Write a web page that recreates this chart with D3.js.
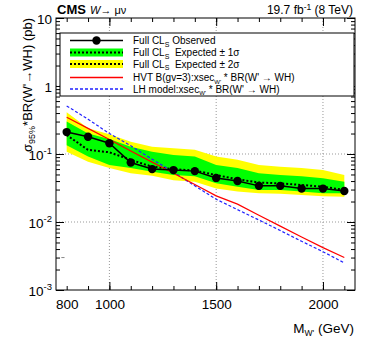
<!DOCTYPE html>
<html>
<head>
<meta charset="utf-8">
<script src="https://cdn.jsdelivr.net/npm/d3@7"></script>
<style>
  body { margin: 0; background: #fff; }
  svg { font-family: "Liberation Sans", Arial, sans-serif; }
</style>
</head>
<body>
<div id="chart"></div>
<script>
const masses = [800, 900, 1000, 1100, 1200, 1300, 1400, 1500, 1600, 1700, 1800, 1900, 2000, 2100];
const observed = [0.21, 0.179, 0.144, 0.075, 0.060, 0.058, 0.056, 0.0445, 0.040, 0.034, 0.034, 0.031, 0.031, 0.0286];
const expected = [0.19, 0.115, 0.106, 0.082, 0.065, 0.060, 0.057, 0.049, 0.0425, 0.038, 0.037, 0.035, 0.033, 0.0296];
const sigma1Lo = [0.134, 0.092, 0.069, 0.062, 0.055, 0.049, 0.047, 0.037, 0.033, 0.0296, 0.0296, 0.028, 0.0265, 0.0265];
const sigma1Hi = [0.30, 0.20, 0.166, 0.128, 0.108, 0.097, 0.092, 0.069, 0.062, 0.052, 0.049, 0.047, 0.044, 0.039];
const sigma2Lo = [0.108, 0.077, 0.062, 0.052, 0.048, 0.041, 0.039, 0.031, 0.028, 0.0265, 0.026, 0.025, 0.024, 0.0236];
const sigma2Hi = [0.41, 0.24, 0.195, 0.152, 0.128, 0.122, 0.115, 0.092, 0.082, 0.069, 0.065, 0.062, 0.058, 0.049];
const hvt = [0.348, 0.238, 0.163, 0.111, 0.076, 0.052, 0.0355, 0.0242, 0.0183, 0.0126, 0.0087, 0.0060, 0.0042, 0.0030];
const lh = [0.51, 0.325, 0.200, 0.132, 0.084, 0.054, 0.034, 0.0216, 0.0152, 0.0107, 0.0075, 0.0052, 0.00366, 0.0025];

const xTickLabels = [800, 1000, 1500, 2000];
const decades = [1e-3, 1e-2, 1e-1, 1, 10];

const svgWidth = 374, svgHeight = 342;
const margin = { top: 18, left: 56 };
const width = 299, height = 272;

const svg = d3.select("#chart").append("svg")
    .attr("width", svgWidth)
    .attr("height", svgHeight);

const g = svg.append("g")
    .attr("transform", `translate(${margin.left},${margin.top})`);

const x = d3.scaleLinear().domain([750, 2150]).range([0, width]);
const y = d3.scaleLog().domain([1e-3, 10]).range([height, 0]);

// minor log ticks
const minorY = [];
decades.slice(0, 4).forEach(d => {
    for (let k = 2; k <= 9; k++) minorY.push(d * k);
});
const xMinor = d3.range(800, 2101, 100);
const xMajor = [1000, 1500, 2000];

// grid
const grid = g.append("g")
    .attr("stroke", "#999")
    .attr("stroke-dasharray", "1,2");
grid.selectAll(".gx").data(xMajor).join("line")
    .attr("x1", d => x(d)).attr("x2", d => x(d))
    .attr("y1", 0).attr("y2", height);
grid.selectAll(".gy").data([1e-2, 1e-1, 1]).join("line")
    .attr("x1", 0).attr("x2", width)
    .attr("y1", d => y(d)).attr("y2", d => y(d));

// bands
const area = (lo, hi) => d3.area()
    .x((d, i) => x(masses[i]))
    .y0((d, i) => y(lo[i]))
    .y1((d, i) => y(hi[i]));

g.append("path").datum(masses)
    .attr("d", area(sigma2Lo, sigma2Hi))
    .attr("fill", "#ffff00");
g.append("path").datum(masses)
    .attr("d", area(sigma1Lo, sigma1Hi))
    .attr("fill", "#00ff00");

const line = vals => d3.line()
    .x((d, i) => x(masses[i]))
    .y((d, i) => y(vals[i]));

// expected
g.append("path").datum(masses)
    .attr("d", line(expected))
    .attr("fill", "none")
    .attr("stroke", "#000")
    .attr("stroke-width", 2)
    .attr("stroke-dasharray", "2,2");

// theory curves
g.append("path").datum(masses)
    .attr("d", line(lh))
    .attr("fill", "none")
    .attr("stroke", "#2020ff")
    .attr("stroke-width", 1.2)
    .attr("stroke-dasharray", "3,2");
g.append("path").datum(masses)
    .attr("d", line(hvt))
    .attr("fill", "none")
    .attr("stroke", "#ff0000")
    .attr("stroke-width", 1.2);

// observed
g.append("path").datum(masses)
    .attr("d", line(observed))
    .attr("fill", "none")
    .attr("stroke", "#000")
    .attr("stroke-width", 1.5);
g.selectAll("circle.obs").data(masses).join("circle")
    .attr("class", "obs")
    .attr("cx", d => x(d))
    .attr("cy", (d, i) => y(observed[i]))
    .attr("r", 4.2)
    .attr("fill", "#000");

// stray marker near the left edge
g.append("line")
    .attr("x1", x(775)).attr("x2", x(790))
    .attr("y1", y(0.003)).attr("y2", y(0.003))
    .attr("stroke", "#888");

// axes (ticks pointing inward)
function styleAxis(sel) {
    sel.select(".domain").remove();
    sel.selectAll("line").attr("stroke", "#000");
}
g.append("g").attr("transform", `translate(0,${height})`)
    .call(d3.axisBottom(x).tickValues(xMinor).tickSize(-4).tickFormat(""))
    .call(styleAxis);
g.append("g").attr("transform", `translate(0,${height})`)
    .call(d3.axisBottom(x).tickValues(xMajor).tickSize(-8).tickFormat(""))
    .call(styleAxis);
g.append("g")
    .call(d3.axisTop(x).tickValues(xMinor).tickSize(-4).tickFormat(""))
    .call(styleAxis);
g.append("g")
    .call(d3.axisTop(x).tickValues(xMajor).tickSize(-8).tickFormat(""))
    .call(styleAxis);

const xLab = g.append("g").attr("transform", `translate(0,${height})`)
    .call(d3.axisBottom(x).tickValues(xTickLabels).tickSize(0).tickPadding(9).tickFormat(d3.format("d")))
    .call(styleAxis);
xLab.selectAll("text").attr("font-size", 13.5).attr("fill", "#000")
    .attr("font-family", "Liberation Sans, Arial, sans-serif");

g.append("g")
    .call(d3.axisLeft(y).tickValues(minorY).tickSize(-4).tickFormat(""))
    .call(styleAxis);
g.append("g").attr("transform", `translate(${width},0)`)
    .call(d3.axisRight(y).tickValues(minorY).tickSize(-4).tickFormat(""))
    .call(styleAxis);
g.append("g").attr("transform", `translate(${width},0)`)
    .call(d3.axisRight(y).tickValues(decades).tickSize(-8).tickFormat(""))
    .call(styleAxis);
const yAx = g.append("g")
    .call(d3.axisLeft(y).tickValues(decades).tickSize(-8).tickPadding(4).tickFormat(""))
    .call(styleAxis);
yAx.selectAll("text").each(function (d) {
    const t = d3.select(this)
        .attr("font-size", 13.5).attr("fill", "#000")
        .attr("font-family", "Liberation Sans, Arial, sans-serif")
        .attr("dy", "0.4em");
    const e = Math.round(Math.log10(d));
    if (e >= 0) {
        t.text(e === 0 ? "1" : "10");
    } else {
        t.append("tspan").text("10");
        t.append("tspan").attr("dy", -5.5).attr("font-size", 9.5).text(`-${-e}`);
    }
});

// frame
g.append("rect")
    .attr("width", width).attr("height", height)
    .attr("fill", "none").attr("stroke", "#000");

// legend
const leg = g.append("g").attr("transform", "translate(4,15)");
leg.append("rect")
    .attr("width", width - 5).attr("height", 63)
    .attr("fill", "#fff").attr("stroke", "#000");

const rowY = [7.5, 19.5, 31, 44.5, 56];
const sx0 = 10, sx1 = 63, tx = 73;
const fs = 10;

// observed entry
leg.append("line").attr("x1", sx0).attr("x2", sx1).attr("y1", rowY[0]).attr("y2", rowY[0])
    .attr("stroke", "#000").attr("stroke-width", 1.5);
leg.append("circle").attr("cx", (sx0 + sx1) / 2).attr("cy", rowY[0]).attr("r", 4.2).attr("fill", "#000");
// band entries
[["#00ff00", rowY[1]], ["#ffff00", rowY[2]]].forEach(([c, yy]) => {
    leg.append("rect").attr("x", sx0).attr("y", yy - 4).attr("width", sx1 - sx0).attr("height", 8).attr("fill", c);
    leg.append("line").attr("x1", sx0).attr("x2", sx1).attr("y1", yy).attr("y2", yy)
        .attr("stroke", "#000").attr("stroke-width", 2).attr("stroke-dasharray", "2,2");
});
leg.append("line").attr("x1", sx0).attr("x2", sx1).attr("y1", rowY[3]).attr("y2", rowY[3])
    .attr("stroke", "#ff0000").attr("stroke-width", 1.5);
leg.append("line").attr("x1", sx0).attr("x2", sx1).attr("y1", rowY[4]).attr("y2", rowY[4])
    .attr("stroke", "#2020ff").attr("stroke-width", 1.3).attr("stroke-dasharray", "3,2");

function legText(yy, parts) {
    const t = leg.append("text").attr("x", tx).attr("y", yy + 3.5)
        .attr("font-size", fs).attr("fill", "#000");
    parts.forEach(p => {
        if (typeof p === "string") t.append("tspan").text(p);
        else t.append("tspan").attr("dy", p.dy).attr("font-size", p.fs || fs).text(p.t);
    });
}
legText(rowY[0], ["Full CL", { t: "S", dy: 2.5, fs: 7 }, { t: " Observed", dy: -2.5 }]);
legText(rowY[1], ["Full CL", { t: "S", dy: 2.5, fs: 7 }, { t: "\u00a0 Expected \u00b1 1\u03c3", dy: -2.5 }]);
legText(rowY[2], ["Full CL", { t: "S", dy: 2.5, fs: 7 }, { t: "\u00a0 Expected \u00b1 2\u03c3", dy: -2.5 }]);
legText(rowY[3], ["HVT B(gv=3):xsec", { t: "W'", dy: 2.5, fs: 6 }, { t: " * BR(W' \u2192 WH)", dy: -2.5 }]);
legText(rowY[4], ["LH model:xsec", { t: "W'", dy: 2.5, fs: 6 }, { t: " * BR(W' \u2192 WH)", dy: -2.5 }]);

// header
svg.append("text").attr("x", 57).attr("y", 14)
    .attr("font-size", 13).attr("font-weight", "bold").text("CMS");
const sub = svg.append("text").attr("x", 90).attr("y", 14).attr("font-size", 11);
sub.append("tspan").attr("font-style", "italic").text("W");
sub.append("tspan").text("\u2192 \u03bc\u03bd");

const lumi = svg.append("text").attr("x", 353).attr("y", 14)
    .attr("font-size", 12).attr("text-anchor", "end");
lumi.append("tspan").text("19.7 fb");
lumi.append("tspan").attr("dy", -4.5).attr("font-size", 8.5).text("-1");
lumi.append("tspan").attr("dy", 4.5).text(" (8 TeV)");

// axis titles
const xt = svg.append("text").attr("x", 354).attr("y", 333)
    .attr("font-size", 13.5).attr("text-anchor", "end");
xt.append("tspan").text("M");
xt.append("tspan").attr("dy", 3).attr("font-size", 8.5).text("W'");
xt.append("tspan").attr("dy", -3).text(" (GeV)");

const yt = svg.append("text")
    .attr("transform", "rotate(-90)")
    .attr("x", -18).attr("y", 32)
    .attr("font-size", 13).attr("text-anchor", "end");
yt.append("tspan").text("\u03c3");
yt.append("tspan").attr("dy", 3).attr("font-size", 9).text("95%");
yt.append("tspan").attr("dy", -3).text("*BR(W'\u2192WH) (pb)");
</script>
</body>
</html>
